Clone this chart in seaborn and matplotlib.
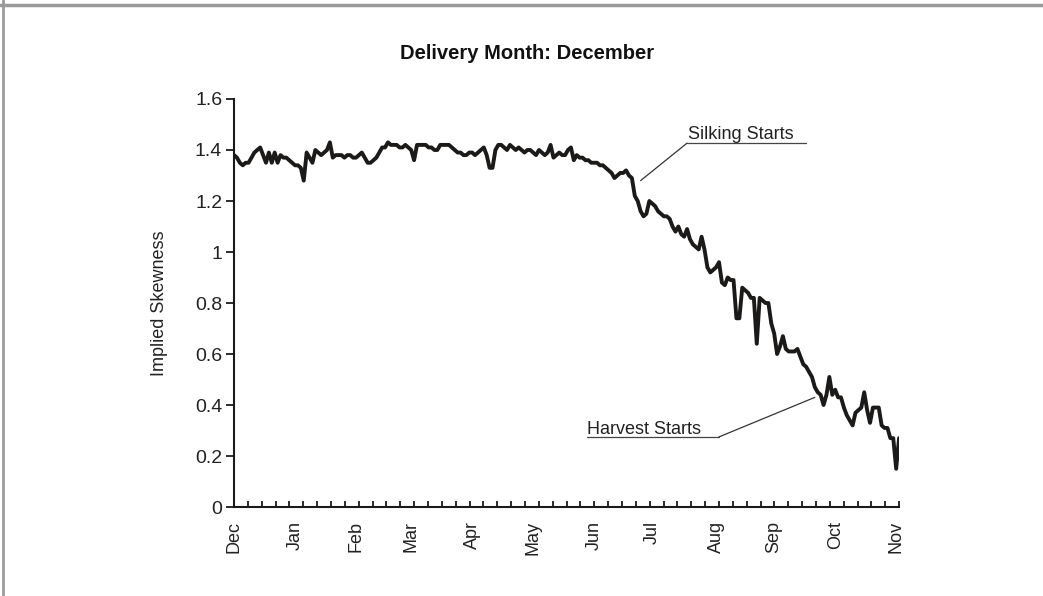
import matplotlib
matplotlib.use("Agg")
import matplotlib.pyplot as plt
import numpy as np
import seaborn as sns
from matplotlib.lines import Line2D

# implied skewness, one value per trading day, Dec -> Nov
skew = [
    1.38, 1.37, 1.35, 1.34, 1.35, 1.35, 1.37, 1.39, 1.40, 1.41,
    1.38, 1.35, 1.39, 1.35, 1.39, 1.35, 1.38, 1.37, 1.37, 1.36,
    1.35, 1.34, 1.34, 1.33, 1.28, 1.39, 1.37, 1.35, 1.40, 1.39,
    1.38, 1.39, 1.40, 1.43, 1.37, 1.38, 1.38, 1.38, 1.37, 1.38,
    1.38, 1.37, 1.37, 1.38, 1.39, 1.37, 1.35, 1.35, 1.36, 1.37,
    1.39, 1.41, 1.41, 1.43, 1.42, 1.42, 1.42, 1.41, 1.41, 1.42,
    1.41, 1.40, 1.36, 1.42, 1.42, 1.42, 1.42, 1.41, 1.41, 1.40,
    1.40, 1.42, 1.42, 1.42, 1.42, 1.41, 1.40, 1.39, 1.39, 1.38,
    1.38, 1.39, 1.39, 1.38, 1.39, 1.40, 1.41, 1.38, 1.33, 1.33,
    1.40, 1.42, 1.42, 1.41, 1.40, 1.42, 1.41, 1.40, 1.41, 1.40,
    1.39, 1.40, 1.40, 1.39, 1.38, 1.40, 1.39, 1.38, 1.39, 1.42,
    1.37, 1.38, 1.39, 1.38, 1.38, 1.40, 1.41, 1.36, 1.38, 1.37,
    1.37, 1.36, 1.36, 1.35, 1.35, 1.35, 1.34, 1.34, 1.33, 1.32,
    1.31, 1.29, 1.30, 1.31, 1.31, 1.32, 1.30, 1.29, 1.22, 1.20,
    1.16, 1.14, 1.15, 1.20, 1.19, 1.18, 1.16, 1.15, 1.14, 1.14,
    1.13, 1.10, 1.08, 1.10, 1.07, 1.06, 1.09, 1.05, 1.03, 1.02,
    1.01, 1.06, 1.01, 0.94, 0.92, 0.93, 0.94, 0.96, 0.88, 0.87,
    0.90, 0.89, 0.89, 0.74, 0.74, 0.86, 0.85, 0.84, 0.82, 0.82,
    0.64, 0.82, 0.81, 0.80, 0.80, 0.72, 0.68, 0.60, 0.63, 0.67,
    0.62, 0.61, 0.61, 0.61, 0.62, 0.59, 0.56, 0.55, 0.53, 0.51,
    0.47, 0.45, 0.44, 0.40, 0.44, 0.51, 0.44, 0.46, 0.43, 0.43,
    0.39, 0.36, 0.34, 0.32, 0.37, 0.38, 0.39, 0.45, 0.38, 0.33,
    0.39, 0.39, 0.39, 0.32, 0.31, 0.31, 0.27, 0.27, 0.15, 0.27,
]
day = np.arange(len(skew))

month_labels = ["Dec", "Jan", "Feb", "Mar", "Apr", "May",
                "Jun", "Jul", "Aug", "Sep", "Oct", "Nov"]
month_day = [0, 21, 42, 61, 82, 103, 124, 144, 166, 186, 207, 228]

y_ticks = [0, 0.2, 0.4, 0.6, 0.8, 1.0, 1.2, 1.4, 1.6]

sns.set_style("ticks")
plt.rcParams["font.family"] = ["Liberation Sans", "DejaVu Sans"]

ink = "#1c1a18"
fig = plt.figure(figsize=(10.43, 5.96), dpi=100)
ax = fig.add_axes([0.2244, 0.1493, 0.6376, 0.6846])

sns.lineplot(x=day, y=skew, ax=ax, color=ink, linewidth=2.8)

ax.set_xlim(0, len(skew) - 1)
ax.set_ylim(0, 1.6)
sns.despine(ax=ax)
for side in ("left", "bottom"):
    ax.spines[side].set_color(ink)
    ax.spines[side].set_linewidth(1.5)

ax.set_yticks(y_ticks)
ax.set_yticklabels([f"{v:g}" for v in y_ticks])
ax.tick_params(axis="y", left=True, direction="out", length=5.5, width=1.3,
               color=ink, pad=3, labelsize=14, labelcolor="#222222")

ax.set_xticks(month_day)
ax.set_xticklabels(month_labels, rotation=90)
ax.set_xticks(np.linspace(0, len(skew) - 1, 49), minor=True)
ax.tick_params(axis="x", which="major", bottom=True, length=0, pad=10,
               labelsize=13, labelcolor="#222222")
ax.tick_params(axis="x", which="minor", bottom=True, direction="in",
               length=4.5, width=1.3, color=ink)

ax.set_xlabel("")
ax.set_ylabel("Implied Skewness", fontsize=13, color="#222222")
ax.yaxis.set_label_coords(-0.099, 0.5)

fig.suptitle("Delivery Month: December", x=0.505, y=0.927,
             fontsize=14.5, fontweight="bold", color="#111111")

# event call-outs: underlined label with a leader to the curve
silk = 138
harv = 200
ax.plot([silk + 18, silk + 59], [1.427, 1.427], color="#444444", lw=0.9)
ax.plot([silk + 18, silk + 2], [1.427, skew[silk] + 0.06], color="#333333", lw=0.9)
ax.text(silk + 18.3, 1.443, "Silking Starts", fontsize=13, color="#222222",
        ha="left", va="baseline")

ax.plot([harv - 78.6, harv - 33], [0.275, 0.275], color="#444444", lw=0.9)
ax.plot([harv - 33, harv], [0.275, skew[harv] - 0.04], color="#333333", lw=0.9)
ax.text(harv - 78.6, 0.288, "Harvest Starts", fontsize=13, color="#222222",
        ha="left", va="baseline")

# grey frame on the top and left edges
fig.add_artist(Line2D([0, 1], [1 - 5 / 596, 1 - 5 / 596], color="#9a9a9a",
                      lw=2.5, transform=fig.transFigure))
fig.add_artist(Line2D([3 / 1043, 3 / 1043], [0, 1], color="#9a9a9a",
                      lw=2.0, transform=fig.transFigure))

fig.savefig("out.png", dpi=100)
